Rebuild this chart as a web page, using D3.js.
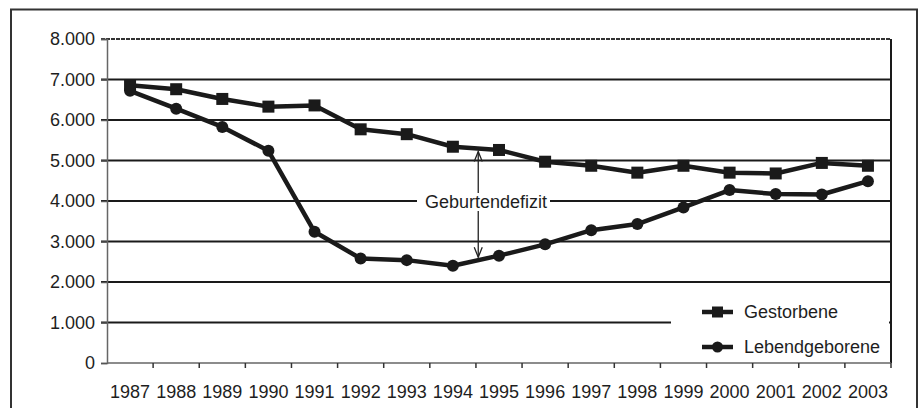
<!DOCTYPE html>
<html>
<head>
<meta charset="utf-8">
<script src="https://cdn.jsdelivr.net/npm/d3@7/dist/d3.min.js"></script>
<style>
  html, body { margin: 0; padding: 0; background: #fff; }
  svg { display: block; font-family: "Liberation Sans", Arial, Helvetica, sans-serif; }
</style>
</head>
<body>
<svg id="chart" width="922" height="408"></svg>
<script>
// ---- data ----
const years = ["1987","1988","1989","1990","1991","1992","1993","1994","1995","1996","1997","1998","1999","2000","2001","2002","2003"];
const gestorbene = [6860, 6760, 6520, 6330, 6360, 5770, 5650, 5340, 5260, 4970, 4870, 4700, 4870, 4700, 4680, 4940, 4870];
const lebendgeborene = [6720, 6280, 5830, 5240, 3240, 2580, 2540, 2400, 2650, 2930, 3280, 3430, 3840, 4270, 4170, 4160, 4490];
const yTicks = [0, 1000, 2000, 3000, 4000, 5000, 6000, 7000, 8000];
const seriesNames = ["Gestorbene", "Lebendgeborene"];
const annotationText = "Geburtendefizit";

(function () {
// ---- layout ----
const svg = d3.select("#chart");
const pLeft = 107, pRight = 891, pTop = 39, pBottom = 363;
const ink = "#1a1a1a";

const x = d3.scaleBand().domain(years).range([pLeft, pRight]).padding(0);
const y = d3.scaleLinear().domain([0, 8000]).range([pBottom, pTop]);
const cx = d => x(d) + x.bandwidth() / 2;

const de = d3.formatLocale({decimal: ",", thousands: ".", grouping: [3], currency: ["", " €"]});
const fmt = de.format(",.0f");

// outer frame
svg.append("rect").attr("x", 11).attr("y", 9.5).attr("width", 906).attr("height", 420)
  .attr("fill", "none").attr("stroke", "#333").attr("stroke-width", 2);

// gridlines
svg.append("g").selectAll("line").data(yTicks.filter(t => t > 0)).join("line")
  .attr("x1", pLeft - 6).attr("x2", pRight)
  .attr("y1", d => y(d)).attr("y2", d => y(d))
  .attr("stroke", d => d === 8000 ? "#333" : ink)
  .attr("stroke-width", 2)
  .attr("stroke-dasharray", d => d === 8000 ? "4,1" : null);

// right border of plot
svg.append("line").attr("x1", pRight).attr("x2", pRight).attr("y1", pTop).attr("y2", pBottom)
  .attr("stroke", ink).attr("stroke-width", 2);

// y axis
const yAxis = svg.append("g").attr("transform", `translate(${pLeft},0)`)
  .call(d3.axisLeft(y).tickValues(yTicks).tickSize(6).tickPadding(6).tickFormat(fmt));
yAxis.select(".domain").attr("stroke", "#666").attr("stroke-width", 1.5);
yAxis.selectAll(".tick line").attr("stroke", "#555").attr("stroke-width", 1.5);
yAxis.selectAll("text").attr("font-size", 18).attr("fill", "#1e1e1e")
  .attr("font-family", "Liberation Sans, Arial, sans-serif");

// x axis (labels)
const xAxis = svg.append("g").attr("transform", `translate(0,${pBottom})`)
  .call(d3.axisBottom(x).tickSize(0).tickPadding(22));
xAxis.select(".domain").remove();
xAxis.selectAll("text").attr("font-size", 18).attr("fill", "#1e1e1e")
  .attr("font-family", "Liberation Sans, Arial, sans-serif");
svg.append("line").attr("x1", pLeft).attr("x2", pRight).attr("y1", pBottom).attr("y2", pBottom)
  .attr("stroke", "#666").attr("stroke-width", 1.5);
// x ticks at category boundaries
const boundaries = years.map(d => x(d)).concat([x(years[years.length - 1]) + x.bandwidth()]);
svg.append("g").selectAll("line").data(boundaries.slice(1)).join("line")
  .attr("x1", d => d).attr("x2", d => d).attr("y1", pBottom).attr("y2", pBottom + 5)
  .attr("stroke", "#333").attr("stroke-width", 1.5);

// lines
const line = d3.line().x((d, i) => cx(years[i])).y(d => y(d));
svg.append("path").datum(gestorbene).attr("d", line)
  .attr("fill", "none").attr("stroke", ink).attr("stroke-width", 4.5).attr("stroke-linejoin", "round");
svg.append("path").datum(lebendgeborene).attr("d", line)
  .attr("fill", "none").attr("stroke", ink).attr("stroke-width", 4.5).attr("stroke-linejoin", "round");

// markers
const sq = 12;
svg.append("g").selectAll("rect").data(gestorbene).join("rect")
  .attr("x", (d, i) => cx(years[i]) - sq / 2).attr("y", d => y(d) - sq / 2)
  .attr("width", sq).attr("height", sq).attr("fill", ink);
svg.append("g").selectAll("circle").data(lebendgeborene).join("circle")
  .attr("cx", (d, i) => cx(years[i])).attr("cy", d => y(d)).attr("r", 6).attr("fill", ink);

// annotation arrow between 1994 and 1995
const i0 = years.indexOf("1994"), f = 0.55;
const ax = cx(years[i0]) + f * x.bandwidth();
const gTop = gestorbene[i0] + f * (gestorbene[i0 + 1] - gestorbene[i0]);
const lBot = lebendgeborene[i0] + f * (lebendgeborene[i0 + 1] - lebendgeborene[i0]);
const yTip1 = y(gTop) + 3, yTip2 = y(lBot) - 3;
const ann = svg.append("g").attr("stroke", "#222").attr("stroke-width", 1.3).attr("fill", "none");
ann.append("line").attr("x1", ax).attr("x2", ax).attr("y1", yTip1).attr("y2", yTip2);
ann.append("path").attr("d", `M${ax - 4},${yTip1 + 10} L${ax},${yTip1} L${ax + 4},${yTip1 + 10}`);
ann.append("path").attr("d", `M${ax - 4},${yTip2 - 10} L${ax},${yTip2} L${ax + 4},${yTip2 - 10}`);
const ty = y(4000);
svg.append("rect").attr("x", 417).attr("y", ty - 8).attr("width", 133).attr("height", 18).attr("fill", "#fff");
svg.append("text").attr("x", 486).attr("y", ty + 1).attr("dy", "0.36em")
  .attr("text-anchor", "middle").attr("font-size", 18).attr("fill", "#1e1e1e").text(annotationText);

// legend
svg.append("rect").attr("x", 671).attr("y", 292).attr("width", 218).attr("height", 69).attr("fill", "#fff");
const lg = svg.append("g");
[[312, "rect"], [347, "circle"]].forEach(([ly, shape], k) => {
  lg.append("line").attr("x1", 702).attr("x2", 733).attr("y1", ly).attr("y2", ly)
    .attr("stroke", ink).attr("stroke-width", 4.5);
  if (shape === "rect") {
    lg.append("rect").attr("x", 717.5 - 5.5).attr("y", ly - 5.5).attr("width", 11).attr("height", 11).attr("fill", ink);
  } else {
    lg.append("circle").attr("cx", 717.5).attr("cy", ly).attr("r", 5.5).attr("fill", ink);
  }
  lg.append("text").attr("x", 744).attr("y", ly).attr("dy", "0.36em")
    .attr("font-size", 18).attr("fill", "#1e1e1e").text(seriesNames[k]);
});
})();
</script>
</body>
</html>
